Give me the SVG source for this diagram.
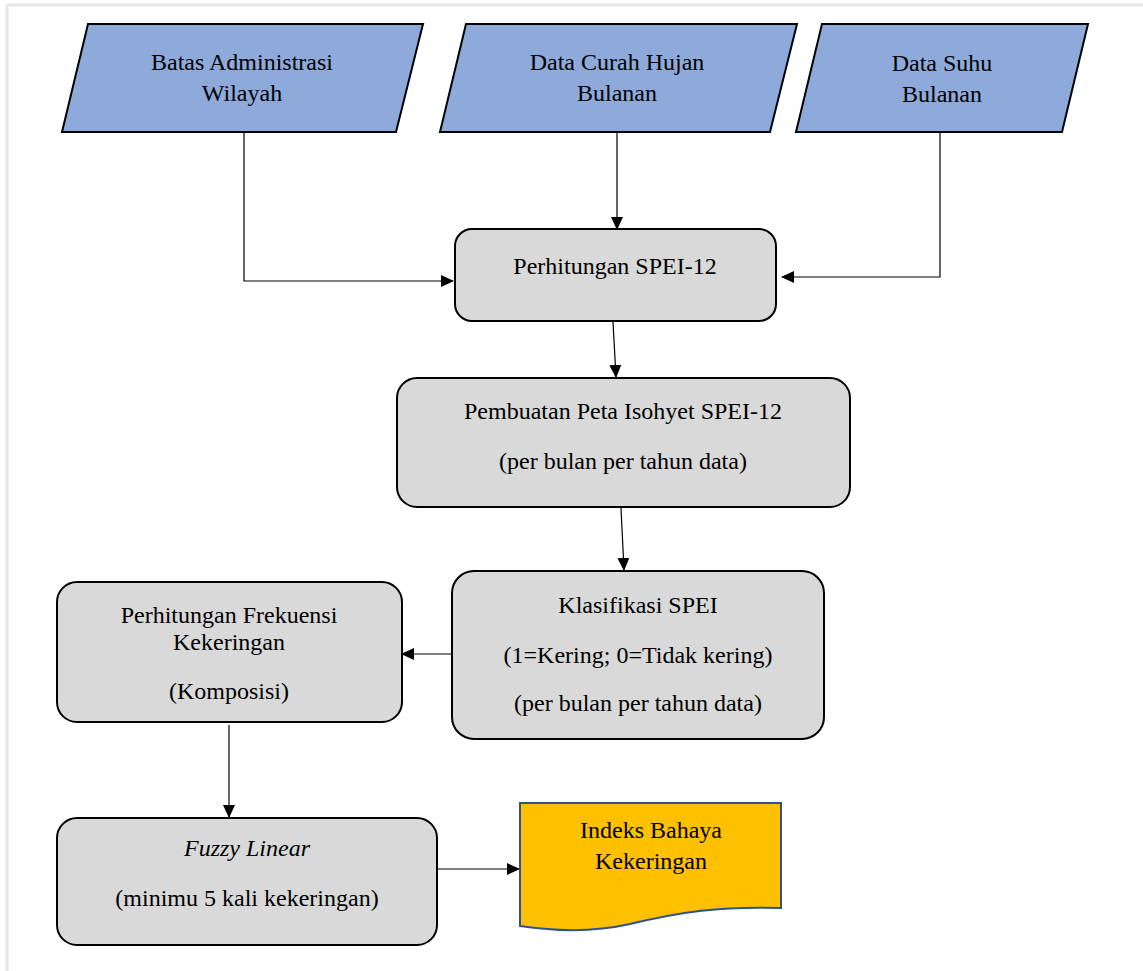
<svg xmlns="http://www.w3.org/2000/svg" width="1143" height="971" viewBox="0 0 1143 971">
<defs>
<marker id="arr" markerWidth="13" markerHeight="12" refX="12" refY="6" orient="auto" markerUnits="userSpaceOnUse">
<path d="M0,0 L13,6 L0,12 Z" fill="#000"/>
</marker>
<style>
.io{fill:#8EAADB;stroke:#000;stroke-width:2}
.proc{fill:#D9D9D9;stroke:#000;stroke-width:2}
.doc{fill:#FFC000;stroke:#2F528F;stroke-width:2}
.t{font-family:"Liberation Serif","Times New Roman",serif;font-size:24px;fill:#000;text-anchor:middle}
.c{fill:none;stroke:#000;stroke-width:1.2}
</style>
</defs>
<rect x="0" y="0" width="1143" height="971" fill="#fff"/>
<g id="frame">
<line x1="7" y1="5" x2="1143" y2="5" stroke="#e6e6e6" stroke-width="3"/>
<line x1="7" y1="5" x2="7" y2="971" stroke="#e6e6e6" stroke-width="3"/>
</g>
<g id="connectors">
<path class="c" d="M244,133 V281 H453" marker-end="url(#arr)"/>
<path class="c" d="M617,133 V229" marker-end="url(#arr)"/>
<path class="c" d="M940,133 V277 H782" marker-end="url(#arr)"/>
<path class="c" d="M613,322 L616,377" marker-end="url(#arr)"/>
<path class="c" d="M621,508 L624,570" marker-end="url(#arr)"/>
<path class="c" d="M451,654 H402" marker-end="url(#arr)"/>
<path class="c" d="M229,725 V817" marker-end="url(#arr)"/>
<path class="c" d="M438,869 H519" marker-end="url(#arr)"/>
</g>
<g id="batas">
<polygon class="io" points="88,24 423,24 396,132 62,132"/>
<text class="t" x="242" y="70">Batas Administrasi</text>
<text class="t" x="242" y="101">Wilayah</text>
</g>
<g id="curah">
<polygon class="io" points="466,24 797,24 770,132 440,132"/>
<text class="t" x="617" y="70">Data Curah Hujan</text>
<text class="t" x="617" y="101">Bulanan</text>
</g>
<g id="suhu">
<polygon class="io" points="822,24 1088,24 1062,132 796,132"/>
<text class="t" x="942" y="71">Data Suhu</text>
<text class="t" x="942" y="102">Bulanan</text>
</g>
<g id="spei12">
<rect class="proc" x="455" y="229" width="321" height="92" rx="17"/>
<text class="t" x="615" y="274">Perhitungan SPEI-12</text>
</g>
<g id="peta">
<rect class="proc" x="397" y="378" width="453" height="129" rx="20"/>
<text class="t" x="623" y="419">Pembuatan Peta Isohyet SPEI-12</text>
<text class="t" x="623" y="469">(per bulan per tahun data)</text>
</g>
<g id="klasifikasi">
<rect class="proc" x="452" y="571" width="372" height="168" rx="22"/>
<text class="t" x="638" y="613">Klasifikasi SPEI</text>
<text class="t" x="638" y="663">(1=Kering; 0=Tidak kering)</text>
<text class="t" x="638" y="711">(per bulan per tahun data)</text>
</g>
<g id="frekuensi">
<rect class="proc" x="57" y="582" width="345" height="140" rx="20"/>
<text class="t" x="229" y="623">Perhitungan Frekuensi</text>
<text class="t" x="229" y="650">Kekeringan</text>
<text class="t" x="229" y="699">(Komposisi)</text>
</g>
<g id="fuzzy">
<rect class="proc" x="57" y="818" width="380" height="127" rx="20"/>
<text class="t" x="247" y="856" font-style="italic">Fuzzy Linear</text>
<text class="t" x="247" y="906">(minimu 5 kali kekeringan)</text>
</g>
<g id="indeks">
<path class="doc" d="M520,803 H781 V908 C720,906 680,912 630,924 C595,932 560,932 520,926 Z"/>
<text class="t" x="651" y="838">Indeks Bahaya</text>
<text class="t" x="651" y="869">Kekeringan</text>
</g>
</svg>
